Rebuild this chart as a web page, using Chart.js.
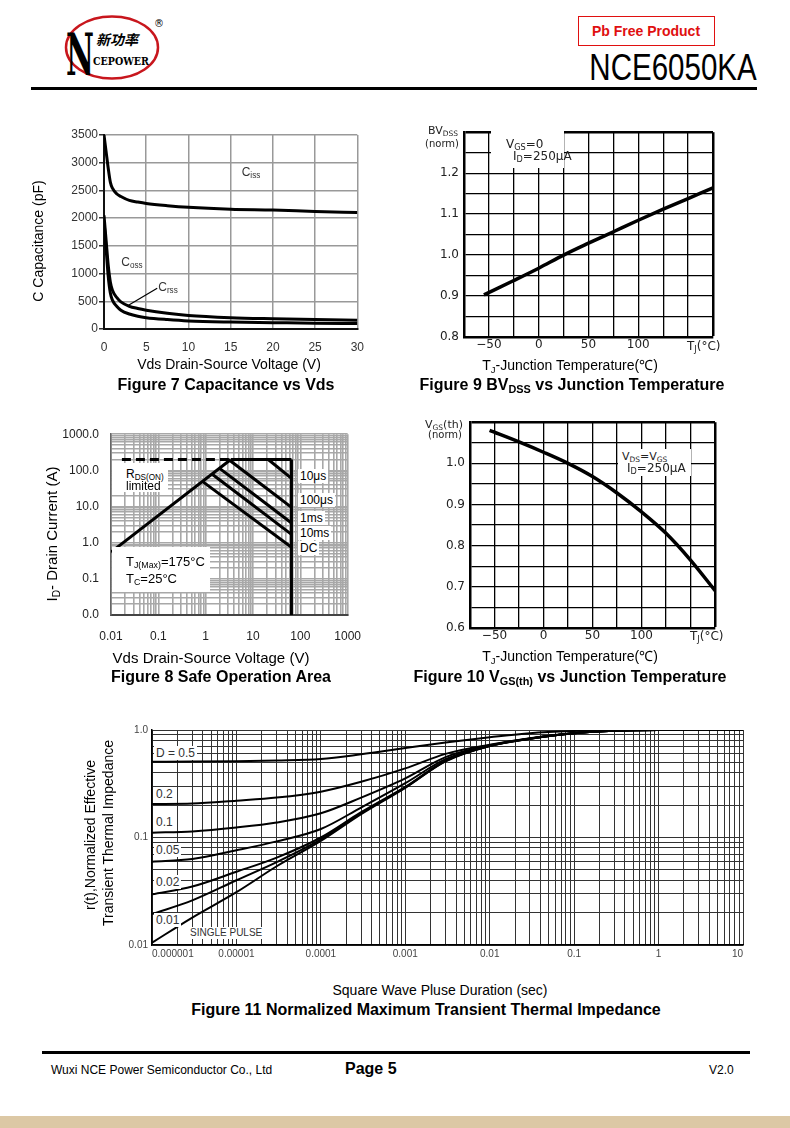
<!DOCTYPE html>
<html>
<head>
<meta charset="utf-8">
<script src="https://cdn.jsdelivr.net/npm/chart.js@4.4.0/dist/chart.umd.min.js"></script>
<style>
html, body { margin: 0; padding: 0; }
body { width: 790px; height: 1128px; position: relative; overflow: hidden; background: #fff;
       font-family: "Liberation Sans", Arial, sans-serif; color: #000; }
.p { position: absolute; }
.c { position: absolute; transform: translate(-50%, -50%); white-space: nowrap; line-height: 1; }
.l { position: absolute; transform: translateY(-50%); white-space: nowrap; line-height: 1; }
.v { position: absolute; transform: translate(-50%, -50%) rotate(-90deg); white-space: nowrap; line-height: 1; }
.cap { font-weight: bold; font-size: 16px; }
.wb { background: #fff; padding: 1px 2px; }
.dj { font-family: "DejaVu Sans", sans-serif; }
sub { font-size: 0.68em; vertical-align: -0.3em; line-height: 0; }
</style>
</head>
<body>

<!-- header -->
<svg class="p" style="left:60px;top:10px" width="115" height="75" viewBox="60 10 115 75">
  <ellipse cx="112" cy="47.5" rx="46" ry="31" fill="none" stroke="#c8161d" stroke-width="2.5"/>
  <text x="66" y="75" font-family="DejaVu Serif" font-weight="bold" font-size="58" textLength="28" lengthAdjust="spacingAndGlyphs">N</text>
  <text x="96" y="45" font-family="Noto Sans CJK SC" font-weight="bold" font-style="italic" font-size="14">新功率</text>
  <text x="93" y="65" font-family="DejaVu Serif" font-weight="bold" font-size="11" textLength="56" lengthAdjust="spacingAndGlyphs">CEPOWER</text>
  <text x="154" y="27" font-family="DejaVu Sans" font-size="10">®</text>
</svg>
<div class="p" style="left:578px;top:16px;width:135px;height:28px;border:1.5px solid #e01010;"></div>
<div class="c" style="left:646px;top:31px;font-size:14px;font-weight:bold;color:#e01010">Pb Free Product</div>
<div class="c" style="left:673px;top:68px;font-size:36px;transform:translate(-50%,-50%) scaleX(0.82)">NCE6050KA</div>
<div class="p" style="left:31px;top:87px;width:726px;height:3px;background:#000"></div>

<!-- chart canvases -->
<div class="p" style="left:30px;top:125px;width:345px;height:240px"><canvas id="c7"></canvas></div>
<div class="p" style="left:400px;top:120px;width:340px;height:240px"><canvas id="c9"></canvas></div>
<div class="p" style="left:30px;top:415px;width:345px;height:240px"><canvas id="c8"></canvas></div>
<div class="p" style="left:400px;top:410px;width:340px;height:240px"><canvas id="c10"></canvas></div>
<div class="p" style="left:60px;top:718px;width:700px;height:250px"><canvas id="c11"></canvas></div>

<!-- figure 7 texts -->
<div class="v" style="left:38px;top:241px;font-size:14px">C Capacitance (pF)</div>
<div class="c" style="left:229px;top:364px;font-size:14px">Vds Drain-Source Voltage (V)</div>
<div class="c cap" style="left:226px;top:385px">Figure 7 Capacitance vs Vds</div>
<div class="c" style="left:251px;top:172px;font-size:12px;color:#333">C<sub>iss</sub></div>
<div class="c" style="left:132px;top:262px;font-size:12px;color:#333">C<sub>oss</sub></div>
<div class="c" style="left:168px;top:287px;font-size:12px;color:#333">C<sub>rss</sub></div>

<!-- figure 9 texts -->
<div class="c dj" style="left:443px;top:130px;font-size:11px;color:#222">BV<sub>DSS</sub></div>
<div class="c dj" style="left:442px;top:144px;font-size:10px;color:#222">(norm)</div>
<div class="p" style="left:491px;top:131px;width:73px;height:37px;background:#fff"></div>
<div class="l dj" style="left:506px;top:144px;font-size:12px;color:#222">V<sub>GS</sub>=0</div>
<div class="l dj" style="left:513px;top:156px;font-size:12px;color:#222">I<sub>D</sub>=250μA</div>
<div class="l dj" style="left:687px;top:346px;font-size:12px;color:#222">T<sub>J</sub>(°C)</div>
<div class="c" style="left:570px;top:365px;font-size:14px">T<sub>J</sub>-Junction Temperature(℃)</div>
<div class="c cap" style="left:572px;top:385px">Figure 9 BV<sub>DSS</sub> vs Junction Temperature</div>

<!-- figure 8 texts -->
<div class="v" style="left:51px;top:534px;font-size:15px">I<sub>D</sub>- Drain Current (A)</div>
<div class="c" style="left:211px;top:657px;font-size:15px">Vds Drain-Source Voltage (V)</div>
<div class="c cap" style="left:221px;top:677px">Figure 8 Safe Operation Area</div>
<div class="p" style="left:112px;top:463px;width:56px;height:29px;background:#fff"></div>
<div class="l" style="left:126px;top:474px;font-size:12px">R<sub>DS(ON)</sub></div>
<div class="l" style="left:126px;top:486px;font-size:12px">limited</div>
<div class="p" style="left:112px;top:547px;width:98px;height:45px;background:#fff"></div>
<div class="l" style="left:126px;top:561px;font-size:13px">T<sub>J(Max)</sub>=175°C</div>
<div class="l" style="left:126px;top:578px;font-size:13px">T<sub>C</sub>=25°C</div>
<div class="l wb" style="left:298px;top:476px;font-size:12px">10μs</div>
<div class="l wb" style="left:298px;top:500px;font-size:12px">100μs</div>
<div class="l wb" style="left:298px;top:518px;font-size:12px">1ms</div>
<div class="l wb" style="left:298px;top:533px;font-size:12px">10ms</div>
<div class="l wb" style="left:298px;top:548px;font-size:12px">DC</div>

<!-- figure 10 texts -->
<div class="c dj" style="left:444px;top:424px;font-size:11px;color:#222">V<sub>GS</sub>(th)</div>
<div class="c dj" style="left:445px;top:435px;font-size:10px;color:#222">(norm)</div>
<div class="p" style="left:618px;top:449px;width:73px;height:27px;background:#fff"></div>
<div class="l dj" style="left:622px;top:456px;font-size:11px;color:#222">V<sub>DS</sub>=V<sub>GS</sub></div>
<div class="l dj" style="left:627px;top:468px;font-size:12px;color:#222">I<sub>D</sub>=250μA</div>
<div class="l dj" style="left:690px;top:636px;font-size:12px;color:#222">T<sub>J</sub>(°C)</div>
<div class="c" style="left:570px;top:656px;font-size:14px">T<sub>J</sub>-Junction Temperature(℃)</div>
<div class="c cap" style="left:570px;top:677px">Figure 10 V<sub>GS(th)</sub> vs Junction Temperature</div>

<!-- figure 11 texts -->
<div class="v" style="left:90px;top:835px;font-size:14px">r(t),Normalized Effective</div>
<div class="v" style="left:108px;top:833px;font-size:14px">Transient Thermal Impedance</div>
<div class="l wb" style="left:154px;top:753px;font-size:12px;color:#333">D = 0.5</div>
<div class="l wb" style="left:154px;top:794px;font-size:12px;color:#333">0.2</div>
<div class="l wb" style="left:154px;top:822px;font-size:12px;color:#333">0.1</div>
<div class="l wb" style="left:154px;top:850px;font-size:12px;color:#333">0.05</div>
<div class="l wb" style="left:154px;top:882px;font-size:12px;color:#333">0.02</div>
<div class="l wb" style="left:154px;top:920px;font-size:12px;color:#333">0.01</div>
<div class="l wb" style="left:188px;top:933px;font-size:10px;color:#333">SINGLE PULSE</div>
<div class="c" style="left:440px;top:990px;font-size:14px">Square Wave Pluse Duration (sec)</div>
<div class="c cap" style="left:426px;top:1010px">Figure 11 Normalized Maximum Transient Thermal Impedance</div>

<!-- footer -->
<div class="p" style="left:42px;top:1051px;width:708px;height:3px;background:#000"></div>
<div class="l" style="left:51px;top:1070px;font-size:12px">Wuxi NCE Power Semiconductor Co., Ltd</div>
<div class="l" style="left:345px;top:1069px;font-size:16px;font-weight:bold">Page 5</div>
<div class="l" style="left:709px;top:1070px;font-size:12px">V2.0</div>
<div class="p" style="left:0;top:1116px;width:790px;height:12px;background:#dcc8a5"></div>

<script>
// Figure 7 - capacitance vs Vds
const capVds = [0, 0.25, 0.5, 0.75, 1, 1.5, 2, 3, 4, 5, 7.5, 10, 15, 20, 25, 30];
const cissPf = [3500, 3200, 2900, 2650, 2540, 2440, 2390, 2320, 2290, 2265, 2225, 2195, 2160, 2145, 2120, 2100];
const cossPf = [2050, 1600, 1150, 850, 700, 570, 490, 410, 370, 340, 285, 245, 205, 185, 170, 160];
const crssPf = [1950, 1450, 950, 650, 520, 410, 340, 270, 230, 205, 170, 145, 125, 115, 105, 100];
const crssArrowV = [6.3, 2.9];
const crssArrowC = [735, 430];
const capXTicks = [0, 5, 10, 15, 20, 25, 30];
const capYTicks = [0, 500, 1000, 1500, 2000, 2500, 3000, 3500];

// Figure 9 - BVdss vs Tj
const bvTemp = [-55, -25, 0, 25, 50, 75, 100, 125, 150, 175];
const bvNorm = [0.903, 0.938, 0.968, 1.0, 1.029, 1.057, 1.085, 1.112, 1.138, 1.164];

// Figure 10 - Vgs(th) vs Tj
const vthTemp = [-55, -25, 0, 25, 50, 75, 100, 125, 150, 175];
const vthNorm = [1.08, 1.052, 1.027, 1.0, 0.968, 0.928, 0.882, 0.830, 0.765, 0.691];

// shared temperature axis
const tempGrid = [-75, -50, -25, 0, 25, 50, 75, 100, 125, 150, 175];
const tempTicks = [-50, 0, 50, 100];
const tempLabels = ['\u221250', '0', '50', '100'];
const bvGrid = [0.8, 0.85, 0.9, 0.95, 1.0, 1.05, 1.1, 1.15, 1.2, 1.25, 1.3];
const bvTicks = [0.8, 0.9, 1.0, 1.1, 1.2];
const vthGrid = [0.6, 0.65, 0.7, 0.75, 0.8, 0.85, 0.9, 0.95, 1.0, 1.05, 1.1];
const vthTicks = [0.6, 0.7, 0.8, 0.9, 1.0];

// Figure 8 - safe operating area
const soaRdsV = [0.017, 3.4],  soaRdsA = [200, 200];
const soaTopV = [3.4, 65],     soaTopA = [200, 200];
const soaRiseV = [0.01, 3.4],  soaRiseA = [0.55, 200];
const soaDcV = [0.88, 65],     soaDcA = [48, 0.75];
const soa10msV = [1.4, 65],    soa10msA = [77, 1.7];
const soa1msV = [2.0, 65],     soa1msA = [112, 3.5];
const soa100usV = [3.3, 65],   soa100usA = [185, 9.5];
const soa10usV = [21, 65],     soa10usA = [200, 60];
const soaEdgeV = [65, 65],     soaEdgeA = [200, 0.01];
const soaXTicks = [0.01, 0.1, 1, 10, 100, 1000];
const soaXLabels = ['0.01', '0.1', '1', '10', '100', '1000'];
const soaYTicks = [0.01, 0.1, 1, 10, 100, 1000];
const soaYLabels = ['0.0', '0.1', '1.0', '10.0', '100.0', '1000.0'];

// Figure 11 - transient thermal impedance
const pulseSec = [1e-6, 3e-6, 1e-5, 3e-5, 1e-4, 3e-4, 1e-3, 3e-3, 1e-2, 3e-2, 0.1, 0.3, 1, 3, 10];
const zthD05   = [0.507, 0.508, 0.512, 0.52, 0.537, 0.595, 0.68, 0.765, 0.855, 0.935, 0.978, 0.995, 1, 1, 1];
const zthD02   = [0.205, 0.207, 0.22, 0.235, 0.267, 0.33, 0.44, 0.60, 0.73, 0.84, 0.94, 0.985, 1, 1, 1];
const zthD01   = [0.111, 0.114, 0.124, 0.138, 0.168, 0.235, 0.355, 0.56, 0.72, 0.835, 0.935, 0.985, 1, 1, 1];
const zthD005  = [0.0596, 0.063, 0.076, 0.092, 0.120, 0.19, 0.32, 0.535, 0.715, 0.835, 0.935, 0.985, 1, 1, 1];
const zthD002  = [0.0296, 0.035, 0.048, 0.065, 0.100, 0.172, 0.296, 0.52, 0.71, 0.83, 0.935, 0.985, 1, 1, 1];
const zthD001  = [0.0194, 0.026, 0.040, 0.059, 0.096, 0.168, 0.292, 0.515, 0.71, 0.83, 0.935, 0.985, 1, 1, 1];
const zthSingle = [0.0105, 0.018, 0.031, 0.054, 0.093, 0.165, 0.29, 0.51, 0.71, 0.83, 0.935, 0.985, 1, 1, 1];
const zthXTicks = [1e-6, 1e-5, 1e-4, 1e-3, 1e-2, 0.1, 1, 10];
const zthXLabels = ['0.000001', '0.00001', '0.0001', '0.001', '0.01', '0.1', '1', '10'];
const zthYTicks = [0.01, 0.1, 1];
const zthYLabels = ['0.01', '0.1', '1.0'];

Chart.defaults.animation = false;
Chart.defaults.responsive = true;
Chart.defaults.maintainAspectRatio = false;
Chart.defaults.events = [];
Chart.defaults.font.family = '"Liberation Sans", Arial, sans-serif';
Chart.defaults.plugins.legend.display = false;
Chart.defaults.plugins.tooltip.enabled = false;

const pts = (xs, ys) => xs.map((x, i) => ({ x: x, y: ys[i] }));
const line = (data, extra) => Object.assign({
  data: data, borderColor: '#000', borderWidth: 3, pointRadius: 0, fill: false,
  cubicInterpolationMode: 'monotone'
}, extra || {});
const fixSize = n => s => { if (s.isHorizontal()) s.height = n; else s.width = n; };
const setTicks = vals => s => { s.ticks = vals.map(v => ({ value: v })); };
const labelFrom = (vals, labels) => v => {
  const i = vals.findIndex(t => Math.abs(t - v) <= 1e-6 * Math.max(Math.abs(t), 1e-9));
  return i < 0 ? '' : labels[i];
};
// 1..9 x 10^n grid for log axes
function logGrid(lo, hi) {
  const out = [];
  for (let e = lo; e < hi; e++) for (let m = 1; m < 10; m++) out.push(Number(m + 'e' + e));
  out.push(Number('1e' + hi));
  return out;
}

// ---- Figure 7 ----
new Chart(document.getElementById('c7'), {
  type: 'line',
  data: { datasets: [
    line(pts(capVds, cissPf)),
    line(pts(capVds, cossPf)),
    line(pts(capVds, crssPf)),
    line(pts(crssArrowV, crssArrowC), { borderWidth: 1.2, cubicInterpolationMode: 'default', tension: 0 })
  ] },
  options: {
    layout: { padding: { left: 0, top: 10, right: 15, bottom: 0 } },
    scales: {
      x: { type: 'linear', min: 0, max: 30, afterBuildTicks: setTicks(capXTicks), afterFit: fixSize(36),
           ticks: { font: { size: 12 }, color: '#333', padding: 11, maxRotation: 0, autoSkip: false, callback: v => String(v) },
           grid: { color: '#999', lineWidth: 1.5, drawTicks: false },
           border: { color: '#111', width: 2 } },
      y: { type: 'linear', min: 0, max: 3500, afterBuildTicks: setTicks(capYTicks), afterFit: fixSize(74),
           ticks: { font: { size: 12 }, color: '#333', padding: 1, autoSkip: false, callback: v => String(v) },
           grid: { color: '#999', lineWidth: 1.5, tickLength: 5, tickColor: '#333' },
           border: { color: '#111', width: 2 } }
    }
  }
});

// ---- Figures 9 and 10 (shared style) ----
function tempChart(id, temps, vals, yMin, yMax, yGrid, yTicks, pad, yw, xh) {
  const edge = (ctx, last) => (ctx.index === last ? 2.5 : 1.3);
  return new Chart(document.getElementById(id), {
    type: 'line',
    data: { datasets: [line(pts(temps, vals), { borderWidth: 3.5 })] },
    options: {
      layout: { padding: pad },
      scales: {
        x: { type: 'linear', min: -75, max: 175, afterBuildTicks: setTicks(tempGrid), afterFit: fixSize(xh),
             ticks: { font: { family: '"DejaVu Sans", sans-serif', size: 12 }, color: '#222', padding: 1,
                      maxRotation: 0, autoSkip: false, callback: labelFrom(tempTicks, tempLabels) },
             grid: { color: '#000', drawTicks: false, lineWidth: ctx => edge(ctx, tempGrid.length - 1) },
             border: { color: '#000', width: 2.5 } },
        y: { type: 'linear', min: yMin, max: yMax, afterBuildTicks: setTicks(yGrid), afterFit: fixSize(yw),
             ticks: { font: { family: '"DejaVu Sans", sans-serif', size: 12 }, color: '#222', padding: 5,
                      autoSkip: false, callback: v => labelFrom(yTicks, yTicks.map(t => t.toFixed(1)))(v) },
             grid: { color: '#000', drawTicks: false, lineWidth: ctx => edge(ctx, yGrid.length - 1) },
             border: { color: '#000', width: 2.5 } }
      }
    }
  });
}
tempChart('c9', bvTemp, bvNorm, 0.8, 1.3, bvGrid, bvTicks, { left: 0, top: 9, right: 27, bottom: 0 }, 64, 23);
tempChart('c10', vthTemp, vthNorm, 0.6, 1.1, vthGrid, vthTicks, { left: 0, top: 10, right: 25, bottom: 0 }, 70, 22);

// ---- Figure 8 ----
const soaGrid = logGrid(-2, 3);
new Chart(document.getElementById('c8'), {
  type: 'line',
  data: { datasets: [
    line(pts(soaRdsV, soaRdsA), { borderDash: [9, 5], tension: 0 }),
    line(pts(soaTopV, soaTopA), { tension: 0 }),
    line(pts(soaRiseV, soaRiseA), { tension: 0 }),
    line(pts(soaDcV, soaDcA), { tension: 0 }),
    line(pts(soa10msV, soa10msA), { tension: 0 }),
    line(pts(soa1msV, soa1msA), { tension: 0 }),
    line(pts(soa100usV, soa100usA), { tension: 0 }),
    line(pts(soa10usV, soa10usA), { tension: 0 }),
    line(pts(soaEdgeV, soaEdgeA), { tension: 0 })
  ] },
  options: {
    layout: { padding: { left: 0, top: 12, right: 22, bottom: 0 } },
    scales: {
      x: { type: 'logarithmic', min: 0.01, max: 1000, afterBuildTicks: setTicks(soaGrid), afterFit: fixSize(40),
           ticks: { font: { size: 12 }, color: '#222', padding: 14, maxRotation: 0, autoSkip: false,
                    callback: labelFrom(soaXTicks, soaXLabels) },
           grid: { color: '#a8a8a8', lineWidth: 1.6, drawTicks: false },
           border: { color: '#444', width: 2 } },
      y: { type: 'logarithmic', min: 0.01, max: 1000, afterBuildTicks: setTicks(soaGrid), afterFit: fixSize(81),
           ticks: { font: { size: 12 }, color: '#222', padding: 12, autoSkip: false,
                    callback: labelFrom(soaYTicks, soaYLabels) },
           grid: { color: '#a8a8a8', lineWidth: 1.6, drawTicks: false },
           border: { color: '#666', width: 1.6 } }
    }
  }
});

// ---- Figure 11 ----
const zthXGrid = logGrid(-6, 1);
const zthYGrid = logGrid(-2, 0);
new Chart(document.getElementById('c11'), {
  type: 'line',
  data: { datasets: [
    line(pts(pulseSec, zthD05), { borderWidth: 2 }),
    line(pts(pulseSec, zthD02), { borderWidth: 2 }),
    line(pts(pulseSec, zthD01), { borderWidth: 2 }),
    line(pts(pulseSec, zthD005), { borderWidth: 2 }),
    line(pts(pulseSec, zthD002), { borderWidth: 2 }),
    line(pts(pulseSec, zthD001), { borderWidth: 2 }),
    line(pts(pulseSec, zthSingle), { borderWidth: 2 })
  ] },
  options: {
    layout: { padding: { left: 0, top: 12, right: 17, bottom: 0 } },
    scales: {
      x: { type: 'logarithmic', min: 1e-6, max: 10, afterBuildTicks: setTicks(zthXGrid), afterFit: fixSize(23),
           ticks: { font: { size: 10 }, color: '#444', padding: 3, maxRotation: 0, autoSkip: false, align: 'inner',
                    callback: labelFrom(zthXTicks, zthXLabels) },
           grid: { color: '#333', lineWidth: 1, drawTicks: false },
           border: { color: '#000', width: 1.5 } },
      y: { type: 'logarithmic', min: 0.01, max: 1, afterBuildTicks: setTicks(zthYGrid), afterFit: fixSize(92),
           ticks: { font: { size: 10 }, color: '#444', padding: 4, autoSkip: false,
                    callback: labelFrom(zthYTicks, zthYLabels) },
           grid: { color: '#333', lineWidth: 1, drawTicks: false },
           border: { color: '#000', width: 1.5 } }
    }
  }
});
</script>
</body>
</html>
